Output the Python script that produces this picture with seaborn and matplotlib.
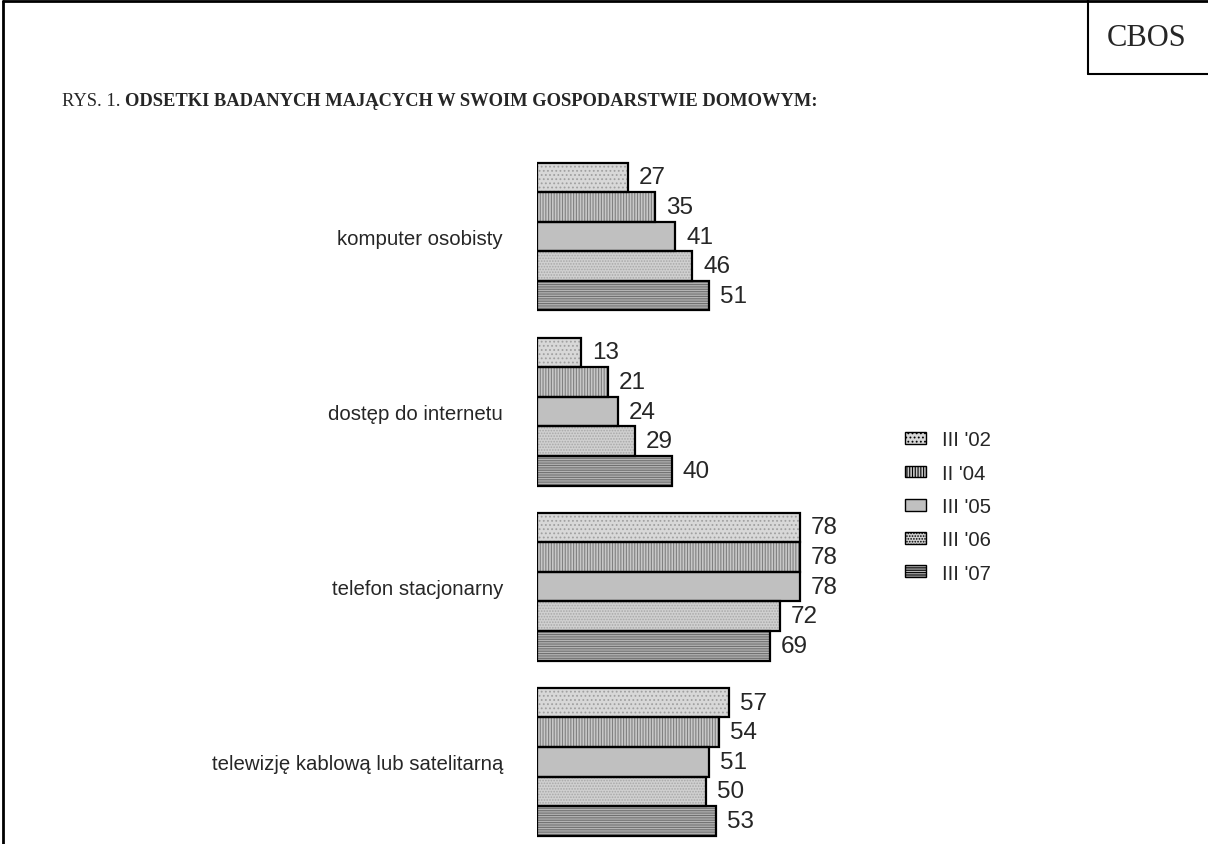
import matplotlib
matplotlib.use("Agg")
import matplotlib.pyplot as plt
import matplotlib.patches as mpatches
import seaborn as sns
import pandas as pd

categories = ["komputer osobisty", "dostęp do internetu",
              "telefon stacjonarny", "telewizję kablową lub satelitarną"]
periods = ["III '02", "II '04", "III '05", "III '06", "III '07"]
komputer = [27, 35, 41, 46, 51]
internet = [13, 21, 24, 29, 40]
telefon = [78, 78, 78, 72, 69]
telewizja = [57, 54, 51, 50, 53]

# look of each survey wave
fills = ["#d8d8d8", "#c8c8c8", "#c0c0c0", "#d0d0d0", "#b4b4b4"]
hatches = ["....", "||||||", "", "......", "-------"]
hatchcols = ["#a0a0a0", "#808080", "#c0c0c0", "#a8a8a8", "#707070"]


def main():
    rows = []
    for cat, vals in zip(categories, [komputer, internet, telefon, telewizja]):
        for per, v in zip(periods, vals):
            rows.append({"kategoria": cat, "okres": per, "proc": v})
    df = pd.DataFrame(rows)

    sns.set_style("white")
    plt.rcParams["font.family"] = ["Liberation Sans", "DejaVu Sans"]
    plt.rcParams["hatch.linewidth"] = 0.8

    fig = plt.figure(figsize=(12.08, 8.45), dpi=100)
    ax = fig.add_axes([537 / 1208, 0, 337 / 1208, 695 / 845])

    sns.barplot(data=df, y="kategoria", x="proc", hue="okres", orient="h",
                order=categories, hue_order=periods, palette=fills,
                width=0.845, ax=ax, legend=False, saturation=1)

    # hatch patterns, then a black outline on top
    for i, per in enumerate(periods):
        cont = ax.containers[i]
        for bar in cont:
            bar.set_hatch(hatches[i])
            bar.set_edgecolor(hatchcols[i])
            bar.set_linewidth(0)
            x0, y0 = bar.get_xy()
            ax.add_patch(mpatches.Rectangle((x0, y0), bar.get_width(), bar.get_height(),
                                            fill=False, edgecolor="black", linewidth=1.6,
                                            zorder=3))
        ax.bar_label(cont, fmt="%d", padding=8, fontsize=17.5)

    ax.set_xlim(0, 100)
    ax.set_ylim(3.47, -0.5)
    ax.set_xlabel("")
    ax.set_ylabel("")
    ax.set_xticks([])
    ax.tick_params(axis="y", length=0, pad=24.5, labelsize=14.7)
    for s in ax.spines.values():
        s.set_visible(False)

    handles = [mpatches.Patch(facecolor=fills[i], hatch=hatches[i], edgecolor=hatchcols[i],
                              linewidth=0) for i in range(5)]
    leg = fig.legend(handles, periods, loc="upper left",
                     bbox_to_anchor=(887 / 1208, 1 - 413 / 845), frameon=False,
                     fontsize=14.7, handlelength=1.0, handleheight=0.5,
                     labelspacing=0.7, handletextpad=0.8)
    for h in leg.legend_handles:
        h.set_edgecolor("black")
        h.set_linewidth(1.0)

    # frame of the page
    fig.add_artist(plt.Line2D([3 / 1208, 3 / 1208], [0, 1 - 2 / 845], color="black", lw=2,
                              transform=fig.transFigure))
    fig.add_artist(plt.Line2D([3 / 1208, 1], [1 - 2 / 845, 1 - 2 / 845], color="black", lw=2,
                              transform=fig.transFigure))
    fig.add_artist(plt.Line2D([1088 / 1208, 1088 / 1208], [1, 1 - 75 / 845], color="black",
                              lw=1.5, transform=fig.transFigure))
    fig.add_artist(plt.Line2D([1088 / 1208, 1], [1 - 75 / 845, 1 - 75 / 845], color="black",
                              lw=1.5, transform=fig.transFigure))
    fig.text(1147 / 1208, 1 - 38 / 845, "CBOS", ha="center", va="center",
             fontsize=22, family="Liberation Serif")

    t1 = fig.text(62 / 1208, 1 - 101 / 845, "RYS. 1. ", ha="left", va="center",
                  fontsize=13.3, family="Liberation Serif")
    fig.canvas.draw()
    bb = t1.get_window_extent()
    fig.text(bb.x1 / 1208, 1 - 101 / 845, "ODSETKI BADANYCH MAJĄCYCH W SWOIM GOSPODARSTWIE DOMOWYM:",
             ha="left", va="center", fontsize=13.3, family="Liberation Serif",
             fontweight="bold")

    fig.savefig("out.png", dpi=100)


if __name__ == '__main__':
    main()
